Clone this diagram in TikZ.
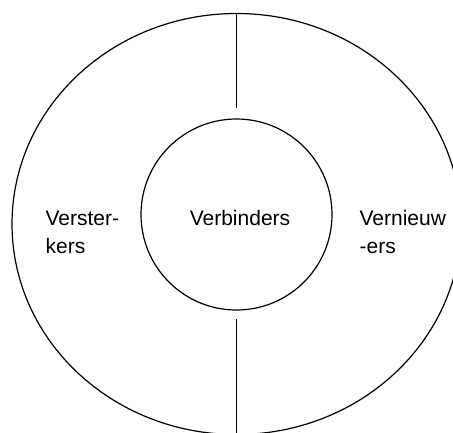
\documentclass[tikz,border=0pt]{standalone}
\usepackage{fontspec}
\setmainfont{Liberation Sans}

\begin{document}
\begin{tikzpicture}[x=1pt,y=-1pt,line width=1.2pt,
    ring/.style={draw,circle,inner sep=0pt},
    word/.style={inner sep=0pt,align=left,font=\fontsize{21}{28}\selectfont}]
    \useasboundingbox (0,0) rectangle (453,432);

    % outer ring
    \draw (236.5,224) ellipse [x radius=224.5pt, y radius=210.5pt];
    \coordinate (outtop) at (236.5,13.5);
    \coordinate (outbot) at (236.5,434.5);

    \node[ring,minimum size=191pt] (inner) at (236.5,214.5) {};

    \node[word,anchor=base] (verb) at (240,225) {Verbinders};
    \node[word,anchor=base west] (verst) at (45,253) {Verster-\\kers};
    \node[word,anchor=base west] (vern) at (359,253) {Vernieuw\\-ers};

    \coordinate (gaptop) at (236.5,108);
    \coordinate (gapbot) at (236.5,319);
    \draw (outtop) -- (gaptop);
    \draw (gapbot) -- (outbot);
\end{tikzpicture}
\end{document}
